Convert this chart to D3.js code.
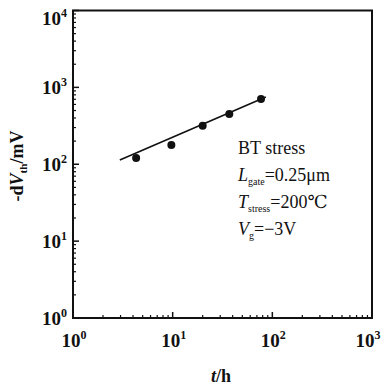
<!DOCTYPE html>
<html><head><meta charset="utf-8">
<script src="https://cdn.jsdelivr.net/npm/d3@7"></script>
<style>
html,body{margin:0;padding:0;background:#fff;}
svg{display:block;font-family:"Liberation Serif","DejaVu Serif",serif;}
</style></head>
<body>
<svg id="c" width="381" height="387"></svg>
<script>
// data
const timeH = [4.3, 9.7, 20, 37, 77];
const dVth = [121, 178, 317, 450, 704];
const fitT = [2.95, 86];
const fitV = [113.5, 748];
const xTickExp = [0, 1, 2, 3];
const yTickExp = [0, 1, 2, 3, 4];
const annot = [
  {main: "BT stress", sub: "", rest: ""},
  {main: "L", sub: "gate", rest: "=0.25\u03bcm"},
  {main: "T", sub: "stress", rest: "=200\u2103"},
  {main: "V", sub: "g", rest: "=\u22123V"}
];

const svg = d3.select("#c");
const L = 73, R = 372, T = 10.5, B = 318;
const x = d3.scaleLog().domain([1, 1000]).range([L, R]);
const y = d3.scaleLog().domain([1, 10000]).range([B, T]);

const ink = "#111";
// minor ticks
const minorX = [], minorY = [];
for (let e = 0; e < 3; e++) for (let m = 2; m <= 9; m++) minorX.push(m * Math.pow(10, e));
for (let e = 0; e < 4; e++) for (let m = 2; m <= 9; m++) minorY.push(m * Math.pow(10, e));

const g = svg.append("g");
g.selectAll(".mx").data(minorX).enter().append("line")
  .attr("x1", d => x(d)).attr("x2", d => x(d)).attr("y1", B).attr("y2", B - 3)
  .attr("stroke", ink).attr("stroke-width", 1.2);
g.selectAll(".Mx").data(xTickExp).enter().append("line")
  .attr("x1", d => x(Math.pow(10, d))).attr("x2", d => x(Math.pow(10, d))).attr("y1", B).attr("y2", B - 6)
  .attr("stroke", ink).attr("stroke-width", 1.5);
g.selectAll(".my").data(minorY).enter().append("line")
  .attr("y1", d => y(d)).attr("y2", d => y(d)).attr("x1", L).attr("x2", L + 3)
  .attr("stroke", ink).attr("stroke-width", 1.2);
g.selectAll(".My").data(yTickExp).enter().append("line")
  .attr("y1", d => y(Math.pow(10, d))).attr("y2", d => y(Math.pow(10, d))).attr("x1", L).attr("x2", L + 6)
  .attr("stroke", ink).attr("stroke-width", 1.5);

// frame
svg.append("rect").attr("x", L).attr("y", T).attr("width", R - L).attr("height", B - T)
  .attr("fill", "none").attr("stroke", ink).attr("stroke-width", 2);

// tick labels
const xl = svg.selectAll(".xl").data(xTickExp).enter().append("text")
  .attr("x", d => Math.min(x(Math.pow(10, d)) + 1, 368)).attr("y", 347)
  .attr("text-anchor", "middle").attr("font-size", 19).attr("fill", ink).attr("font-weight", "bold");
xl.append("tspan").text("10");
xl.append("tspan").attr("font-size", 12).attr("dy", -8).text(d => d);

const yl = svg.selectAll(".yl").data(yTickExp).enter().append("text")
  .attr("x", 67).attr("y", d => Math.max(y(Math.pow(10, d)), 18) + 7)
  .attr("text-anchor", "end").attr("font-size", 19).attr("fill", ink).attr("font-weight", "bold");
yl.append("tspan").text("10");
yl.append("tspan").attr("font-size", 12).attr("dy", -8).text(d => d);

// axis titles
const xt = svg.append("text").attr("x", 221).attr("y", 382).attr("text-anchor", "middle")
  .attr("font-size", 18).attr("font-weight", "bold").attr("fill", ink);
xt.append("tspan").attr("font-style", "italic").text("t");
xt.append("tspan").text("/h");

const yt = svg.append("text").attr("transform", "translate(23,166) rotate(-90)")
  .attr("text-anchor", "middle").attr("font-size", 18).attr("font-weight", "bold").attr("fill", ink);
yt.append("tspan").text("-d");
yt.append("tspan").attr("font-style", "italic").text("V");
yt.append("tspan").attr("font-size", 11).attr("dy", 4).text("th");
yt.append("tspan").attr("dy", -4).text("/mV");

// fit line
svg.append("line").attr("x1", x(fitT[0])).attr("y1", y(fitV[0]))
  .attr("x2", x(fitT[1])).attr("y2", y(fitV[1]))
  .attr("stroke", ink).attr("stroke-width", 1.6);

// points
svg.selectAll(".pt").data(timeH).enter().append("circle")
  .attr("cx", d => x(d)).attr("cy", (d, i) => y(dVth[i])).attr("r", 4)
  .attr("fill", ink);

// annotation
const an = svg.selectAll(".an").data(annot).enter().append("text")
  .attr("x", 238).attr("y", (d, i) => 154 + i * 27)
  .attr("font-size", 18).attr("fill", ink);
an.append("tspan").attr("font-style", (d, i) => i ? "italic" : "normal").text(d => d.main);
an.append("tspan").attr("font-size", 10).attr("dy", 4).text(d => d.sub);
an.append("tspan").attr("dy", d => d.sub ? -4 : 0).text(d => d.rest);
</script>
</body></html>
